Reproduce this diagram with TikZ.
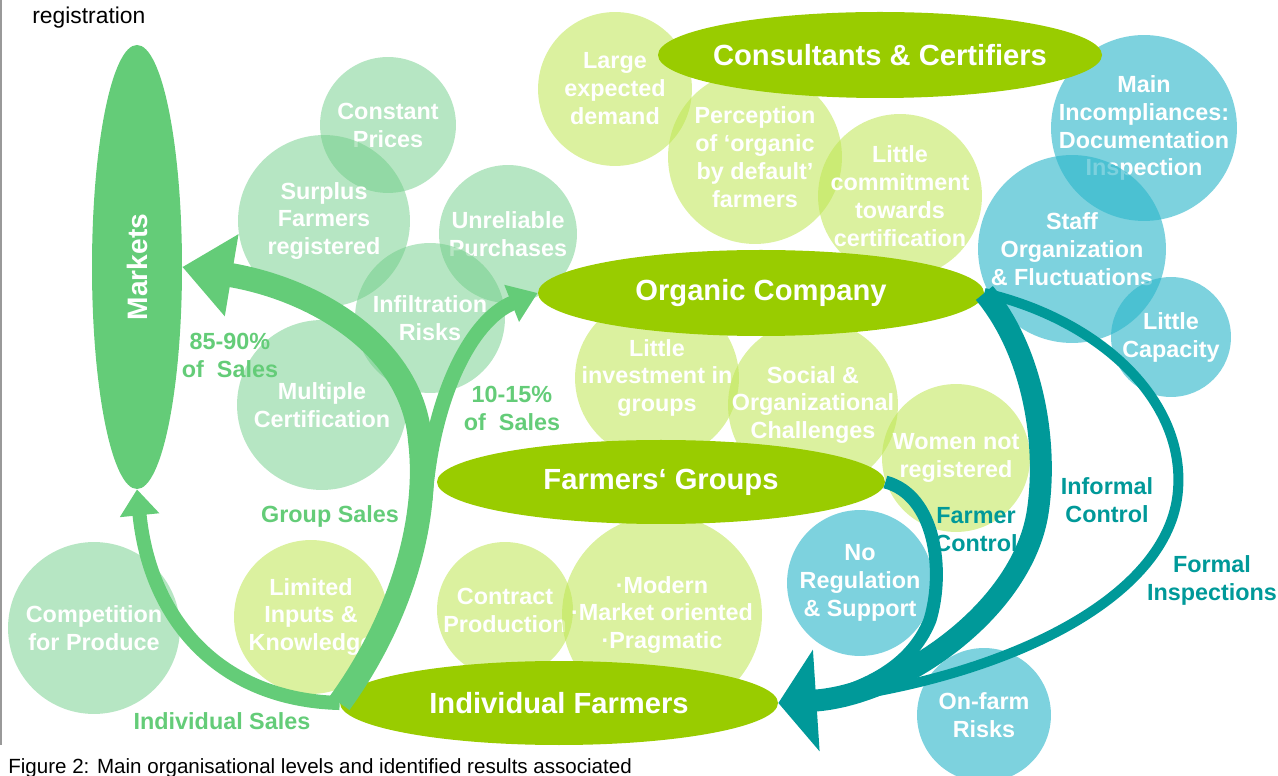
\documentclass[tikz,border=0pt]{standalone}
\usepackage{fontspec}
\setmainfont{Liberation Sans}
\usetikzlibrary{shapes.geometric,arrows.meta}
\definecolor{salesgreen}{RGB}{100,204,120}
\definecolor{levelgreen}{RGB}{153,204,0}
\definecolor{ctrlteal}{RGB}{0,153,153}
\definecolor{mintfill}{RGB}{110,205,135}
\definecolor{limefill}{RGB}{190,230,80}
\definecolor{tealfill}{RGB}{45,182,202}
\newcommand{\bubblefont}{\fontsize{13.3}{15.9}\selectfont\bfseries}
\newcommand{\levelfont}{\fontsize{16.6}{20}\selectfont\bfseries}

\begin{document}
\begin{tikzpicture}[
        x=0.02cm, y=-0.02cm,
        bubble/.style={circle, inner sep=0pt, minimum size=#1*0.04cm},
        bubtext/.style={text=white, text opacity=1, font=\bubblefont, align=center},
        mintbub/.style={bubble=#1, fill=mintfill, fill opacity=0.5},
        limebub/.style={bubble=#1, fill=limefill, fill opacity=0.55},
        tealbub/.style={bubble=#1, fill=tealfill, fill opacity=0.62},
        level/.style={ellipse, inner sep=0pt, fill=levelgreen},
        lvltext/.style={text=white, font=\levelfont},
        flowlbl/.style={font=\bubblefont, align=center},
        sales/.style={draw=salesgreen},
        ctrl/.style={draw=ctrlteal},
    ]
        \useasboundingbox (0,0) rectangle (1278,776);
        \draw[gray!80, line width=0.8pt] (1,0) -- (1,745);

        % Results (bubbles)
        \node[mintbub=68, label={[bubtext]center:Constant\\Prices}] (cp) at (388,125) {};
        \node[mintbub=86, label={[bubtext]center:Surplus\\Farmers\\registered}] (sf) at (324,221) {};
        \node[mintbub=69, label={[bubtext]center:Unreliable\\Purchases}] (up) at (508,234) {};
        \node[mintbub=75, label={[bubtext]center:Infiltration\\Risks}] (ir) at (430,318) {};
        \node[mintbub=85, label={[bubtext]center:Multiple\\Certification}] (mc) at (322,405) {};
        \node[mintbub=86, label={[bubtext]center:Competition\\for Produce}] (cfp) at (94,628) {};

        \node[limebub=77, label={[bubtext]center:Large\\expected\\demand}] (led) at (615,89) {};
        \node[limebub=87, label={[bubtext]center:Perception\\of ‘organic\\by default’\\farmers}] (pod) at (755,157) {};
        \node[limebub=82, label={[bubtext]center:Little\\commitment\\towards\\certification}] (lct) at (900,196) {};
        \node[limebub=82, label={[bubtext]center:Little\\investment in\\groups}] (lig) at (657,378) {};
        \node[limebub=85, label={[bubtext]center:Social \&\\Organizational\\Challenges}] (soc) at (813,405) {};
        \node[limebub=74, label={[bubtext]center:Women not\\registered}] (wnr) at (956,458) {};
        \node[limebub=77, label={[bubtext]center:Limited\\Inputs \&\\Knowledge}] (lik) at (311,617) {};
        \node[limebub=68, label={[bubtext]center:Contract\\Production}] (cpr) at (505,610) {};
        \node[limebub=100, label={[bubtext]center:·Modern\\·Market oriented\\·Pragmatic}] (mod) at (662,615) {};

        \node[tealbub=93, label={[bubtext]center:Main\\Incompliances:\\Documentation\\Inspection}] (mi) at (1144,128) {};
        \node[tealbub=94, label={[bubtext]center:Staff\\Organization\\\& Fluctuations}] (so) at (1072,249) {};
        \node[tealbub=60, label={[bubtext]center:Little\\Capacity}] (lc) at (1171,337) {};
        \node[tealbub=73, label={[bubtext]center:No\\Regulation\\\& Support}] (nrs) at (860,583) {};
        \node[tealbub=67, label={[bubtext]center:On-farm\\Risks}] (ofr) at (984,715) {};

        % Levels
        \node[level, minimum width=444*0.02cm, minimum height=86*0.02cm,
            label={[lvltext]center:Consultants \& Certifiers}] (cc) at (880,55) {};
        \node[level, minimum width=446*0.02cm, minimum height=86*0.02cm,
            label={[lvltext]center:Organic Company}] (orgco) at (761,293) {};
        \node[level, minimum width=448*0.02cm, minimum height=84*0.02cm,
            label={[lvltext]center:Farmers‘ Groups}] (fg) at (661,482) {};
        \node[level, minimum width=438*0.02cm, minimum height=84*0.02cm,
            label={[lvltext]center:Individual Farmers}] (indiv) at (559,703) {};
        \node[ellipse, inner sep=0pt, fill=salesgreen, minimum width=90*0.02cm, minimum height=444*0.02cm,
            label={[lvltext, rotate=90, font=\fontsize{16}{19}\selectfont\bfseries]center:Markets}] (mkt) at (137,267) {};

        % Sales flows
        \coordinate (fork) at (425,500);
        \draw[sales, line width=13.7pt, -{Triangle[length=1cm, width=1.6cm]}]
            (indiv.west) .. controls (400,620) and (430,520) .. (420,440)
            .. controls (413,350) and (320,290) .. (mkt.east);
        \draw[sales, line width=8pt, -{Triangle[length=0.52cm, width=0.76cm]}]
            (indiv.west) .. controls (220,700) and (150,620) .. (mkt.south);
        \draw[sales, line width=8.5pt, -{Triangle[length=0.56cm, width=0.76cm]}]
            (fork) .. controls (432,400) and (470,320) .. (orgco.west);

        % Control flows
        \coordinate (merge) at (812,701);
        \draw[ctrl, line width=5.7pt]
            (orgco.east) .. controls (1100,320) and (1185,400) .. (1178,490)
            .. controls (1170,600) and (1000,680) .. (merge);
        \draw[ctrl, line width=7.4pt]
            (fg.east) .. controls (935,495) and (945,570) .. (930,620)
            .. controls (910,670) and (860,690) .. (merge);
        \draw[ctrl, line width=12.5pt, -{Triangle[length=0.76cm, width=2cm]}]
            (orgco.east) .. controls (1032,350) and (1048,440) .. (1038,510)
            .. controls (1024,610) and (900,695) .. (indiv.east);

        % Labels
        \node[flowlbl, text=salesgreen] (l8590) at (230,355) {85-90\%\\of~ Sales};
        \node[flowlbl, text=salesgreen] (l1015) at (512,408) {10-15\%\\of~ Sales};
        \node[flowlbl, text=salesgreen] (lgroup) at (330,516) {Group Sales};
        \node[flowlbl, text=salesgreen] (lindiv) at (222,721) {Individual Sales};
        \node[flowlbl, text=ctrlteal] (lfarmer) at (976,530) {Farmer\\Control};
        \node[flowlbl, text=ctrlteal] (linformal) at (1107,500) {Informal\\Control};
        \node[flowlbl, text=ctrlteal] (lformal) at (1212,580) {Formal\\Inspections};

        \node[font=\fontsize{13}{15}\selectfont, anchor=base west, inner sep=0pt] (regtext) at (32,24) {registration};
        \node[font=\fontsize{11.7}{14}\selectfont, anchor=base west, inner sep=0pt] (caption) at (8,773)
            {Figure 2: Main organisational levels and identified results associated};
    \end{tikzpicture}
\end{document}
